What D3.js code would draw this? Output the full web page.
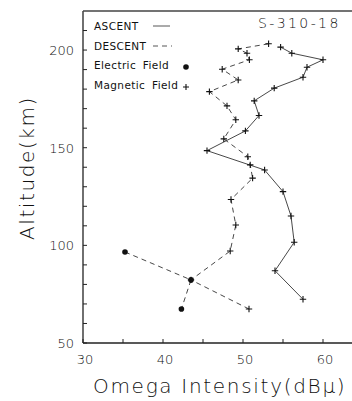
<!DOCTYPE html>
<html>
<head>
<meta charset="utf-8">
<script src="https://cdn.jsdelivr.net/npm/d3@7"></script>
<style>
  html, body { margin: 0; padding: 0; background: #fff; }
  svg { display: block; }
  text { font-family: "DejaVu Sans", sans-serif; fill: #111; }
</style>
</head>
<body>
<svg id="chart" width="352" height="401"></svg>
<script>
// S-310-18 rocket: Omega signal intensity versus altitude
const ascentAlt  = [201.5, 198.4, 195.0, 191.2, 186.1, 180.5, 174.0, 166.5, 158.6, 148.5, 138.6, 127.5, 115.0, 101.6, 87.0, 72.4];
const ascentMag  = [54.7, 56.1, 60.0, 58.0, 57.5, 53.9, 51.4, 52.0, 50.3, 45.5, 52.7, 55.0, 56.0, 56.4, 54.0, 57.5];

const descentAlt = [203.2, 200.6, 198.4, 195.0, 190.2, 184.7, 178.7, 171.4, 164.3, 154.5, 145.4, 141.2, 134.4, 123.5, 110.4, 97.1, 82.3, 67.4];
const descentMag = [53.2, 49.4, 50.5, 50.8, 47.4, 49.4, 45.8, 48.0, 49.1, 47.6, 50.6, 50.9, 51.2, 48.5, 49.1, 48.4, 43.5, 50.75];

const electricAlt = [96.6, 82.3, 67.4];
const electricVal = [35.25, 43.5, 42.3];

const xMajorTicks = [30, 40, 50, 60];
const xMinorTicks = [35, 45, 55];
const yMajorTicks = [50, 100, 150, 200];
const yMinorTicks = [60, 70, 80, 90, 110, 120, 130, 140, 160, 170, 180, 190, 210];

const legendItems = ["ASCENT", "DESCENT", "Electric Field", "Magnetic Field"];

const svg = d3.select("#chart");
const plotLeft = 83, plotTop = 11, plotBottom = 343, plotRight = 352;

const x = d3.scaleLinear().domain([30, 65]).range([plotLeft, plotLeft + 280]);
const y = d3.scaleLinear().domain([50, 220]).range([plotBottom, plotTop]);

const ink = "#222";

// frame: left, bottom, top
const frame = svg.append("g").attr("stroke", ink).attr("stroke-width", 1.3).attr("fill", "none");
frame.append("line").attr("x1", plotLeft).attr("x2", plotLeft).attr("y1", plotTop).attr("y2", plotBottom);
frame.append("line").attr("x1", plotLeft).attr("x2", plotRight).attr("y1", plotBottom).attr("y2", plotBottom);
frame.append("line").attr("x1", plotLeft).attr("x2", plotRight).attr("y1", plotTop).attr("y2", plotTop)
  .attr("stroke", "#444");

// inward ticks
const ticks = svg.append("g").attr("stroke", ink).attr("stroke-width", 1);
ticks.selectAll(".yt").data(yMajorTicks.concat(yMinorTicks)).join("line")
  .attr("x1", plotLeft).attr("x2", plotLeft + 4)
  .attr("y1", d => y(d)).attr("y2", d => y(d));
ticks.selectAll(".xt").data(xMajorTicks.concat(xMinorTicks)).join("line")
  .attr("x1", d => x(d)).attr("x2", d => x(d))
  .attr("y1", plotBottom).attr("y2", plotBottom - 4);

// tick labels
svg.append("g").selectAll("text").data(yMajorTicks).join("text")
  .attr("x", 74).attr("y", d => y(d) + 5)
  .attr("text-anchor", "end").attr("font-size", 13).attr("font-weight", 200)
  .text(d => d);
svg.append("g").selectAll("text").data(xMajorTicks).join("text")
  .attr("x", d => x(d) + 2).attr("y", 364)
  .attr("text-anchor", "middle").attr("font-size", 13).attr("font-weight", 200)
  .text(d => d);

// axis titles
svg.append("text")
  .attr("x", 93).attr("y", 393)
  .attr("font-size", 20).attr("font-weight", 200).attr("letter-spacing", 1.7)
  .attr("fill", "#222")
  .text("Omega Intensity(dBμ)");
svg.append("text")
  .attr("transform", "translate(34,168) rotate(-90)")
  .attr("text-anchor", "middle")
  .attr("font-size", 20).attr("font-weight", 200).attr("letter-spacing", 1.6)
  .attr("fill", "#222")
  .text("Altitude(km)");

// flight label
svg.append("text")
  .attr("x", 258).attr("y", 28)
  .attr("font-size", 14).attr("font-weight", 200).attr("letter-spacing", 2.4)
  .text("S-310-18");

// series lines
const line = d3.line().x(d => x(d[0])).y(d => y(d[1]));
const ascent = ascentMag.map((v, i) => [v, ascentAlt[i]]);
const descent = descentMag.map((v, i) => [v, descentAlt[i]]);
const electric = electricVal.map((v, i) => [v, electricAlt[i]]);

svg.append("path").datum(ascent).attr("d", line)
  .attr("fill", "none").attr("stroke", "#333").attr("stroke-width", 0.9);
svg.append("path").datum(descent).attr("d", line)
  .attr("fill", "none").attr("stroke", "#333").attr("stroke-width", 0.9)
  .attr("stroke-dasharray", "5,4");
svg.append("path").datum(electric).attr("d", line)
  .attr("fill", "none").attr("stroke", "#333").attr("stroke-width", 0.9)
  .attr("stroke-dasharray", "5,4");

// plus markers for magnetic field
function plusMark(g, pts) {
  g.selectAll("path").data(pts).join("path")
    .attr("transform", d => `translate(${x(d[0])},${y(d[1])})`)
    .attr("d", "M-3.2,0H3.2M0,-3.2V3.2")
    .attr("stroke", "#111").attr("stroke-width", 1.1).attr("fill", "none");
}
plusMark(svg.append("g"), ascent);
plusMark(svg.append("g"), descent);

// dots for electric field
svg.append("g").selectAll("circle").data(electric).join("circle")
  .attr("cx", d => x(d[0])).attr("cy", d => y(d[1])).attr("r", 2.8)
  .attr("fill", "#111");

// legend
const lg = svg.append("g");
lg.selectAll("text").data(legendItems).join("text")
  .attr("x", 94).attr("y", (d, i) => 30 + i * 19.5)
  .attr("font-size", 10.5).attr("letter-spacing", 0.4)
  .attr("word-spacing", 3)
  .text(d => d);
lg.append("line").attr("x1", 153).attr("x2", 170).attr("y1", 26).attr("y2", 26)
  .attr("stroke", "#444").attr("stroke-width", 0.9);
lg.append("line").attr("x1", 153).attr("x2", 172).attr("y1", 46).attr("y2", 46)
  .attr("stroke", "#444").attr("stroke-width", 0.9).attr("stroke-dasharray", "5,4");
lg.append("circle").attr("cx", 186).attr("cy", 67).attr("r", 2.8).attr("fill", "#111");
lg.append("path").attr("transform", "translate(186,87)")
  .attr("d", "M-3,0H3M0,-3V3").attr("stroke", "#111").attr("stroke-width", 1.1);
</script>
</body>
</html>
